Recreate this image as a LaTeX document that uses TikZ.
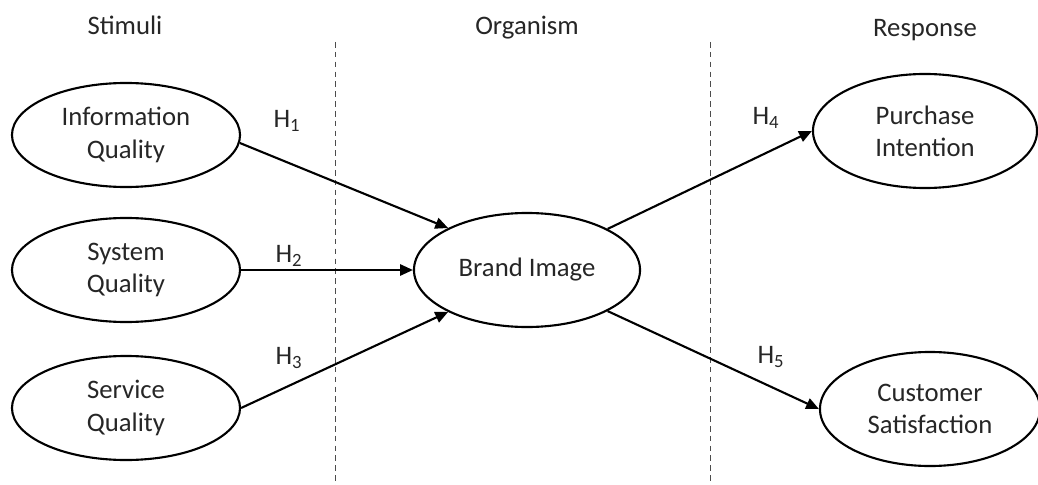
\documentclass[tikz,border=0pt]{standalone}
\usepackage{fontspec}
\setmainfont{Carlito}
\usepackage{tikz}
\usetikzlibrary{shapes, arrows.meta, calc, positioning}
\newcommand{\hyp}[1]{H\textsubscript{#1}}

\begin{document}
\begin{tikzpicture}[x=0.025cm,y=-0.025cm,line width=1.5pt,>={Triangle[length=0.32cm,width=0.28cm]}]
            \useasboundingbox (0,0) rectangle (1038,485);
            \tikzstyle{every node}=[font=\fontsize{19}{23}\selectfont,text=black!85]
            \tikzstyle{construct}=[draw,ellipse,align=center,inner sep=0pt,minimum width=5.7cm,minimum height=2.6cm]
            \tikzstyle{outcome}=[construct,minimum width=5.6cm,minimum height=2.85cm]
            \tikzstyle{divider}=[line width=0.7pt,black!70,dash pattern=on 4pt off 3pt]
            \node[anchor=base] (stimuli) at (125,35) {Stimuli};
            \node[anchor=base] (organism) at (527,35) {Organism};
            \node[anchor=base] (response) at (925,37) {Response};
            \coordinate (d1top) at (335,42);
            \coordinate (d1bot) at (335,485);
            \coordinate (d2top) at (710,42);
            \coordinate (d2bot) at (710,485);
            \draw[divider] (d1top) -- (d1bot);
            \draw[divider] (d2top) -- (d2bot);
            \node[construct] (IQ) at (126,135) {Information\\Quality};
            \node[construct] (SysQ) at (126,270) {System\\Quality};
            \node[construct] (SerQ) at (126,408) {Service\\Quality};
            \node[outcome,minimum width=5.65cm] (BI) at (527,270) {Brand Image};
            \node[outcome] (PI) at (925,131) {Purchase\\Intention};
            \node[outcome,minimum width=5.5cm] (CS) at (930,409) {Customer\\Satisfaction};
            \draw [->] (IQ.-4) -- (BI.152);
            \draw [->] (SysQ.east) -- (BI.west);
            \draw [->] (SerQ.east) -- (BI.208);
            \draw [->] (BI.27) -- (PI.west);
            \draw [->] (BI.-27) -- (CS.west);
            \node (H1) at (287,121) {\hyp{1}};
            \node (H2) at (289,256) {\hyp{2}};
            \node (H3) at (289,358) {\hyp{3}};
            \node (H4) at (766,118) {\hyp{4}};
            \node (H5) at (771,357) {\hyp{5}};
        \end{tikzpicture}
\end{document}
